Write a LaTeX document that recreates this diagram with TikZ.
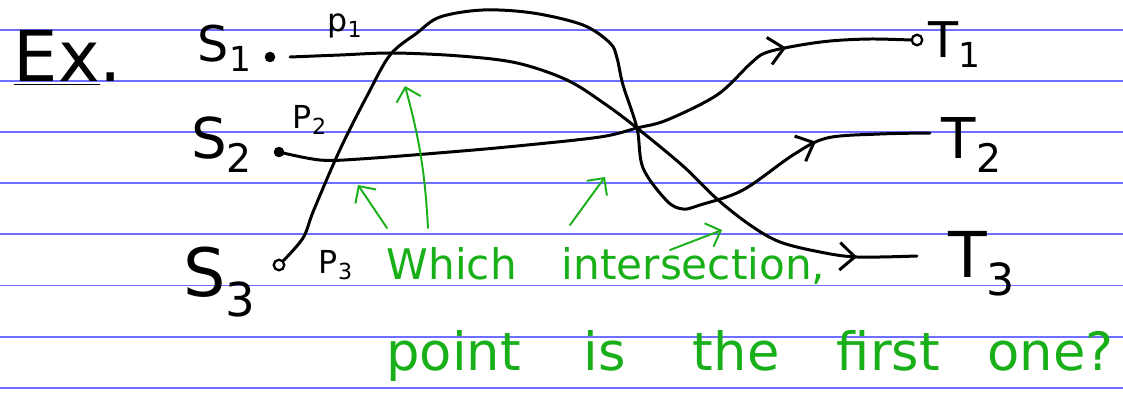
\documentclass[tikz,border=0pt]{standalone}
\usepackage{fontspec}
\setmainfont{DejaVu Sans}
\usetikzlibrary{arrows.meta, decorations.markings}
\definecolor{rulecol}{RGB}{110,110,255}
\definecolor{inkgreen}{RGB}{25,175,25}

\begin{document}
\begin{tikzpicture}[
  x=0.02cm, y=-0.02cm,
  ink/.style={line width=1.7pt, black, line cap=round, line join=round},
  hint/.style={line width=1.1pt, inkgreen, line cap=round, line join=round,
    -{Straight Barb[length=2.5mm,width=5mm]}},
  midarrow/.style={postaction={decorate, decoration={markings,
    mark=at position #1 with {\arrow{Straight Barb[length=3mm,width=5.5mm]}}}}},
  dot/.style={circle, fill=black, inner sep=0pt, minimum size=7pt},
  ring/.style={circle, draw=black, line width=1.3pt, inner sep=0pt, minimum size=6pt},
  lbl/.style={inner sep=0pt, font=\fontsize{28}{30}\selectfont},
  tag/.style={inner sep=0pt, font=\fontsize{18}{20}\selectfont},
  note/.style={inner sep=0pt, text=inkgreen, font=\fontsize{24}{28}\selectfont}
]
% ruled paper
\fill[white] (0,0) rectangle (1123,396);
\useasboundingbox (0,0) rectangle (1123,396);
\foreach \i in {0,...,7}
  \draw[rulecol, line width=1.1pt] (0,{30+51.1*\i}) -- (1123,{30+51.1*\i});

% labels
\node[inner sep=0pt, font=\fontsize{40}{44}\selectfont] (ex) at (68,58) {\underline{Ex}.};
\node[lbl] (lblS1) at (225,48) {S\textsubscript{1}};
\node[lbl, font=\fontsize{32}{34}\selectfont] (lblS2) at (222,145) {S\textsubscript{2}};
\node[lbl, font=\fontsize{38}{40}\selectfont] (lblS3) at (220,282) {S\textsubscript{3}};
\node[tag] (lblP1) at (345,26) {p\textsubscript{1}};
\node[tag] (lblP2) at (310,120) {P\textsubscript{2}};
\node[tag] (lblP3) at (336,265) {P\textsubscript{3}};
\node[lbl] (lblT1) at (955,45) {T\textsubscript{1}};
\node[lbl, font=\fontsize{32}{34}\selectfont] (lblT2) at (972,145) {T\textsubscript{2}};
\node[lbl, font=\fontsize{36}{38}\selectfont] (lblT3) at (982,264) {T\textsubscript{3}};

% end points
\node[dot, minimum size=6pt] (s1dot) at (270,57) {};
\coordinate (s1) at (290,57);
\node[dot, minimum size=6pt] (s2) at (279,152) {};
\node[ring] (s3) at (279,265) {};
\node[ring] (t1) at (917,40) {};
\coordinate (t2) at (930,133);
\coordinate (t3) at (917,256);

% paths
\draw[ink, midarrow=-1.2cm] plot[smooth, tension=0.55] coordinates {
  (s1) (340,55) (393,53) (460,56) (517,63) (567,80) (605,104) (637,128)
  (683,166) (717,199) (750,225) (780,242) (820,252) (857,257) (t3)};
\draw[ink, midarrow=-2.5cm] plot[smooth, tension=0.55] coordinates {
  (s2) (320,160) (360,159) (450,152) (517,146) (600,137) (637,128)
  (667,120) (717,95) (750,64) (765,53) (795,46) (830,41) (870,39) (t1.west)};
\draw[ink, midarrow=-2.3cm] plot[smooth, tension=0.55] coordinates {
  (s3.north east) (303,238) (313,212) (333,165) (347,135) (367,96) (390,55)
  (417,33) (440,17) (483,10) (533,13) (583,25) (610,43) (617,58) (623,85)
  (637,128) (643,168) (667,201) (683,209) (700,205) (743,190) (793,155)
  (827,138) (880,134) (t2)};

% question
\node[note] (ask1) at (606,266) {Which\hspace{0.9cm}intersection,};
\node[note, font=\fontsize{30}{34}\selectfont] (ask2) at (750,356)
  {point\hspace{1.25cm}is\hspace{1.35cm}the\hspace{1.15cm}first\hspace{0.95cm}one?};

\coordinate (h1) at (358,185);
\coordinate (h2) at (405,86);
\coordinate (h3) at (605,177);
\coordinate (h4) at (722,230);
\draw[hint] (387,228) -- (h1);
\draw[hint] (428,228) to[bend right=6] (h2);
\draw[hint] (570,225) -- (h3);
\draw[hint] (670,250) -- (h4);
\end{tikzpicture}
\end{document}
